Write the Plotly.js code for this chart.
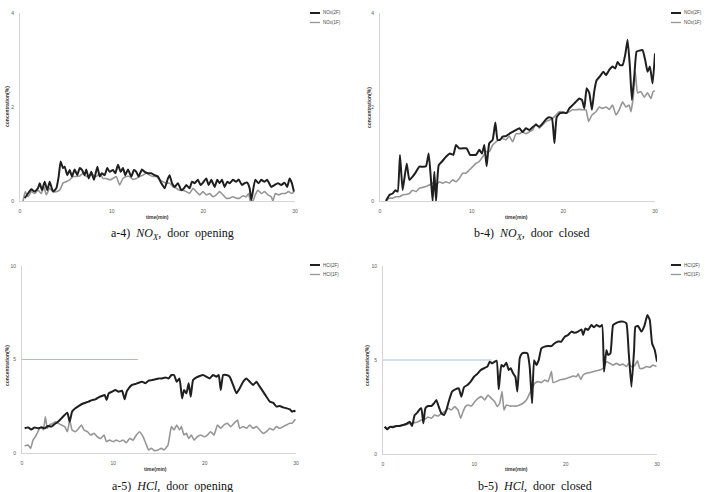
<!DOCTYPE html>
<html>
<head>
<meta charset="utf-8">
<script src="https://cdn.plot.ly/plotly-3.0.1.min.js"></script>
<style>html,body{margin:0;padding:0;background:#fff;}#chart{width:706px;height:492px;}</style>
</head>
<body>
<div id="chart"></div>
<script>
// ---------- DATA ----------
const xTicks = [0, 10, 20, 30];
const noxTicks = [0, 2, 4];
const hclTicks = [0, 5, 10];
const legendNOx = ["NOx(2F)", "NOx(1F)"];
const legendHCl = ["HCl(2F)", "HCl(1F)"];
const captions = ["a-4)  <i>NO</i><sub><i>X</i></sub>,  door  opening",
                  "b-4)  <i>NO</i><sub><i>X</i></sub>,  door  closed",
                  "a-5)  <i>HCl</i>,  door  opening",
                  "b-5)  <i>HCl</i>,  door  closed"];

// a-4) NOx, door opening
const noxOpenT2F = [0.51,0.87,1.24,1.6,1.96,2.15,2.4,2.69,2.98,3.24,3.6,3.96,4.22,4.43,4.69,4.87,5.16,5.42,5.67,5.96,6.25,6.51,6.76,7.05,7.23,7.49,7.78,8.07,8.44,8.69,8.94,9.23,9.52,9.78,10.14,10.4,10.69,10.98,11.23,11.49,11.78,12.14,12.43,12.69,12.94,13.3,13.6,13.96,14.32,14.69,15.05,15.41,15.78,16.14,16.32,16.58,16.87,17.23,17.6,17.89,18.14,18.5,18.76,19.05,19.41,19.7,19.96,20.32,20.58,20.87,21.23,21.52,21.77,22.03,22.32,22.61,22.87,23.23,23.59,23.85,24.21,24.5,24.79,25.05,25.23,25.66,26.03,26.32,26.68,26.97,27.41,27.77,28.14,28.5,28.86,29.15,29.41,29.66,29.88];
const noxOpenV2F = [0.06,0.16,0.25,0.20,0.27,0.38,0.23,0.41,0.23,0.41,0.20,0.27,0.52,0.84,0.70,0.73,0.55,0.66,0.52,0.67,0.55,0.70,0.66,0.55,0.67,0.48,0.62,0.45,0.73,0.52,0.59,0.55,0.70,0.62,0.66,0.59,0.77,0.62,0.70,0.55,0.67,0.52,0.66,0.62,0.52,0.67,0.62,0.59,0.59,0.55,0.52,0.38,0.27,0.48,0.55,0.38,0.30,0.38,0.23,0.27,0.34,0.27,0.41,0.38,0.45,0.34,0.39,0.48,0.34,0.45,0.30,0.45,0.38,0.45,0.30,0.41,0.38,0.45,0.41,0.46,0.34,0.38,0.39,0.27,0.02,0.45,0.38,0.45,0.41,0.45,0.30,0.34,0.38,0.34,0.39,0.30,0.48,0.38,0.20];
const noxOpenT1F = [0.33,0.58,0.87,1.24,1.6,1.96,2.33,2.62,2.87,3.24,3.6,3.96,4.33,4.69,5.05,5.42,5.78,6.14,6.51,6.87,7.23,7.6,7.96,8.33,8.69,9.05,9.42,9.78,10.14,10.5,10.87,11.23,11.6,11.96,12.32,12.69,13.05,13.41,13.78,14.14,14.5,14.87,15.23,15.6,15.96,16.32,16.69,17.05,17.41,17.78,18.14,18.5,18.87,19.23,19.6,19.96,20.32,20.69,21.05,21.41,21.77,22.14,22.5,22.87,23.23,23.59,23.96,24.32,24.68,24.94,25.12,25.41,25.66,25.95,26.32,26.68,27.05,27.41,27.59,27.85,28.22,28.58,28.94,29.3,29.66,29.88];
const noxOpenV1F = [0,0.20,0.09,0.20,0.16,0.23,0.16,0.30,0.13,0.27,0.20,0.20,0.23,0.38,0.41,0.45,0.52,0.52,0.53,0.59,0.52,0.55,0.55,0.52,0.59,0.48,0.48,0.45,0.48,0.52,0.34,0.48,0.52,0.52,0.46,0.48,0.52,0.55,0.59,0.55,0.52,0.52,0.45,0.41,0.38,0.38,0.30,0.27,0.23,0.23,0.20,0.16,0.27,0.20,0.13,0.20,0.13,0.16,0.09,0.13,0.20,0.13,0.06,0.06,0.09,0.06,0.06,0.11,0.09,0.16,0,0,0.13,0.23,0.16,0.20,0.13,0.09,0,0.16,0.13,0.16,0.16,0.20,0.16,0.20];

// b-4) NOx, door closed
const noxClosedT2F = [0.65,1.02,1.38,1.67,1.93,2.18,2.47,2.91,3.2,3.56,3.93,4.29,4.65,5.02,5.31,5.56,5.74,5.93,6.11,6.4,6.76,7.2,7.63,8.0,8.29,8.65,9.02,9.45,9.82,10.18,10.47,10.83,11.12,11.38,11.63,11.92,12.29,12.58,12.83,13.09,13.38,13.74,14.11,14.47,14.83,15.2,15.56,15.92,16.29,16.65,17.01,17.38,17.74,18.11,18.47,18.76,19.03,19.27,19.63,20.0,20.36,20.65,21.01,21.37,21.74,22.03,22.29,22.54,22.83,23.12,23.37,23.63,23.99,24.36,24.65,25.01,25.37,25.66,25.92,26.17,26.46,26.75,27.01,27.26,27.48,27.74,27.99,28.28,28.64,28.93,29.19,29.44,29.74,30.0];
const noxClosedV2F = [0,0.13,0.16,0.23,0.20,0.98,0.23,0.80,0.45,0.52,0.62,0.73,0.73,0.74,1.01,0.45,0,0.62,0,0.76,0.84,0.94,1.01,0.98,1.19,1.12,1.12,1.12,0.98,0.98,0.98,1.09,1.01,1.19,0.74,1.23,1.30,1.67,1.30,1.30,1.37,1.38,1.43,1.47,1.51,1.55,1.47,1.55,1.51,1.57,1.62,1.58,1.65,1.74,1.78,1.76,1.23,1.78,1.87,1.88,1.87,1.97,2.04,2.11,2.18,2.15,1.97,2.40,2.30,1.94,2.33,2.57,2.65,2.75,2.68,2.79,2.86,2.82,2.96,2.89,2.89,3.11,3.43,2.86,2.15,2.65,3.18,3.20,3.21,3.00,2.75,2.86,2.50,3.14];
const noxClosedT1F = [0.65,1.02,1.38,1.74,2.11,2.47,2.84,3.2,3.56,3.93,4.29,4.65,5.02,5.38,5.74,6.11,6.47,6.83,7.2,7.56,7.93,8.29,8.65,9.02,9.38,9.74,10.11,10.47,10.83,11.2,11.56,11.92,12.29,12.65,13.02,13.38,13.74,14.11,14.47,14.83,15.2,15.56,15.92,16.29,16.65,17.01,17.38,17.74,18.11,18.47,18.84,19.2,19.56,19.92,20.29,20.65,21.01,21.37,21.74,22.1,22.47,22.76,23.12,23.56,23.92,24.28,24.65,25.01,25.37,25.74,26.1,26.46,26.83,27.19,27.37,27.63,27.85,28.1,28.46,28.83,29.19,29.55,29.81,30.0];
const noxClosedV1F = [0,0.06,0.06,0.09,0.09,0.13,0.14,0.16,0.23,0.20,0.27,0.29,0.31,0.34,0.38,0.34,0.41,0.38,0.41,0.38,0.45,0.41,0.48,0.59,0.59,0.66,0.73,0.80,0.84,0.94,1.05,1.05,1.19,1.26,1.30,1.33,1.30,1.38,1.26,1.43,1.43,1.47,1.43,1.47,1.51,1.65,1.55,1.62,1.69,1.72,1.76,1.83,1.90,1.90,1.87,1.90,1.94,1.94,1.95,1.94,1.94,1.69,1.83,1.90,2.00,1.97,2.00,1.95,2.04,1.83,1.94,2.11,2.00,2.04,1.90,2.21,2.75,2.30,2.33,2.21,2.30,2.18,2.33,2.34];

// a-5) HCl, door opening
const hclOpenT2F = [0.29,0.66,1.02,1.39,1.75,2.12,2.48,2.85,3.21,3.58,3.94,4.31,4.67,4.97,5.22,5.48,5.84,6.21,6.57,6.94,7.3,7.67,8.03,8.4,8.76,9.05,9.27,9.49,9.86,10.22,10.59,10.95,11.24,11.46,11.68,12.05,12.41,12.78,13.14,13.51,13.87,14.24,14.6,14.97,15.33,15.7,16.06,16.36,16.65,16.94,17.24,17.53,17.74,18.0,18.25,18.47,18.73,19.1,19.46,19.83,20.19,20.55,20.92,21.29,21.54,21.76,22.02,22.38,22.74,23.11,23.48,23.84,24.21,24.57,24.94,25.3,25.67,26.03,26.4,26.76,27.13,27.49,27.86,28.22,28.59,28.95,29.32,29.57,29.79,29.93];
const hclOpenV2F = [1.32,1.37,1.26,1.37,1.32,1.37,1.32,1.44,1.41,1.55,1.67,1.85,2.03,2.16,1.67,2.21,2.39,2.51,2.62,2.69,2.75,2.83,2.87,2.98,3.05,3.10,2.83,3.19,3.28,3.37,3.28,3.33,2.87,3.28,3.46,3.64,3.69,3.76,3.81,3.73,3.87,3.90,3.94,3.99,3.99,4.04,3.99,4.17,4.17,3.81,3.99,2.92,3.37,3.19,3.73,3.01,3.90,4.04,4.12,4.17,4.08,3.99,4.17,4.08,4.17,3.37,4.17,4.17,4.08,3.64,3.19,3.46,3.81,3.99,3.81,3.64,3.81,3.55,3.28,3.01,2.75,2.69,2.48,2.51,2.44,2.39,2.33,2.21,2.26,2.21];
const hclOpenT1F = [0.29,0.66,0.95,1.2,1.57,1.83,2.12,2.34,2.56,2.77,3.03,3.39,3.65,3.94,4.31,4.67,4.97,5.22,5.48,5.84,6.21,6.5,6.79,7.16,7.52,7.89,8.25,8.62,8.98,9.24,9.6,9.97,10.33,10.7,11.06,11.43,11.79,12.16,12.52,12.89,13.25,13.62,13.87,14.16,14.53,14.89,15.26,15.55,15.99,16.36,16.65,16.94,17.24,17.45,17.74,18.0,18.25,18.55,18.84,19.2,19.57,19.93,20.3,20.66,21.03,21.4,21.76,22.12,22.49,22.85,23.22,23.59,23.84,24.21,24.57,24.94,25.3,25.67,26.03,26.4,26.76,27.13,27.49,27.86,28.22,28.59,28.95,29.32,29.57,29.93];
const hclOpenV1F = [0.37,0.43,0.25,0.68,0.96,1.23,1.41,1.23,1.94,1.32,1.50,1.59,1.67,1.59,1.50,1.41,1.14,1.76,1.23,1.14,1.32,1.50,1.23,1.14,0.96,1.05,0.87,0.78,0.96,0.61,0.69,0.61,0.69,0.61,0.69,0.55,0.78,0.69,0.96,1.14,0.87,0.43,0.16,0.25,0.12,0.16,0.25,0.16,0.43,1.41,1.23,1.50,1.23,1.41,0.96,1.05,0.78,0.96,0.69,0.87,0.96,0.87,0.96,1.14,0.96,1.50,1.32,1.50,1.59,1.41,1.59,1.76,1.32,1.41,1.32,1.50,1.32,1.41,1.23,1.05,1.14,1.32,1.23,1.41,1.32,1.41,1.50,1.59,1.59,1.80];

// b-5) HCl, door closed
const hclClosedT2F = [0.18,0.47,0.77,1.09,1.46,1.83,2.19,2.56,2.92,3.18,3.47,3.76,4.02,4.2,4.42,4.64,4.93,5.29,5.59,5.84,6.1,6.39,6.68,6.94,7.19,7.56,7.92,8.29,8.58,8.87,9.24,9.6,9.97,10.33,10.7,11.06,11.43,11.68,11.94,12.23,12.45,12.67,12.96,13.22,13.51,13.76,13.98,14.24,14.49,14.71,14.97,15.22,15.52,15.81,16.06,16.32,16.54,16.79,17.05,17.34,17.71,18.07,18.44,18.8,19.17,19.53,19.9,20.26,20.63,20.99,21.36,21.73,21.91,22.16,22.45,22.82,23.11,23.37,23.73,23.99,24.2,24.46,24.64,24.9,25.19,25.56,25.92,26.29,26.65,26.91,27.2,27.49,27.64,27.93,28.29,28.59,28.95,29.21,29.46,29.75,30.0];
const hclClosedV2F = [1.45,1.31,1.45,1.42,1.49,1.49,1.54,1.60,1.72,1.49,2.07,2.20,2.38,2.43,1.63,2.43,2.55,2.55,2.70,2.87,2.52,2.16,2.07,2.34,2.78,3.32,3.44,3.49,3.05,3.55,3.67,3.85,4.11,4.26,4.47,4.56,4.65,4.91,4.82,4.91,4.96,3.44,4.73,4.65,4.86,4.47,4.56,4.29,4.11,3.32,5.09,5.35,5.39,5.35,4.65,2.70,4.99,4.73,4.99,5.62,5.71,5.74,5.74,5.89,5.98,5.98,6.24,6.33,6.51,6.45,6.51,6.63,6.33,6.68,6.60,6.86,6.74,6.86,6.77,6.86,4.38,5.53,5.27,5.35,6.86,6.98,7.04,7.04,6.95,5.35,3.58,5.53,6.77,6.81,6.51,6.77,7.39,7.13,5.89,5.53,4.91];
const hclClosedT1F = [0.18,0.55,0.91,1.28,1.64,2.01,2.37,2.74,3.1,3.47,3.83,4.2,4.56,4.93,5.29,5.66,6.02,6.39,6.75,7.12,7.48,7.85,8.21,8.51,8.76,9.02,9.31,9.67,10.04,10.4,10.77,11.13,11.5,11.86,12.23,12.52,12.78,13.03,13.25,13.51,13.87,14.24,14.6,14.97,15.33,15.7,16.06,16.32,16.61,16.98,17.34,17.71,18.07,18.44,18.62,18.98,19.35,19.71,20.08,20.45,20.81,21.18,21.36,21.65,21.91,22.27,22.64,23.0,23.37,23.73,24.1,24.46,24.83,25.19,25.56,25.92,26.29,26.65,26.91,27.2,27.56,27.86,28.11,28.48,28.84,29.21,29.57,29.94];
const hclClosedV1F = [1.42,1.37,1.45,1.49,1.49,1.54,1.54,1.60,1.63,1.67,1.72,1.81,1.84,1.97,1.90,2.07,2.02,2.16,2.25,2.43,2.34,2.52,2.34,1.90,2.25,2.52,2.61,2.55,2.78,2.96,3.05,2.87,3.14,2.96,2.78,2.52,2.70,3.32,2.34,2.61,2.55,2.55,2.55,2.61,2.70,2.87,3.23,3.49,3.76,3.85,3.80,3.94,3.85,4.38,3.80,3.85,3.94,3.97,4.02,4.08,4.15,4.11,4.26,3.97,4.20,4.29,4.33,4.38,4.43,4.47,4.56,4.91,4.82,4.73,4.82,4.73,4.78,4.65,4.82,4.65,4.70,4.96,4.56,4.56,4.65,4.61,4.73,4.65];

// reference level lines in HCl panels
const hclLimitOpenT = [0, 12.7];
const hclLimitClosedT = [0, 11.9];
const hclLimitV = [5, 5];

// ---------- STYLE / LAYOUT ----------
const W = 706, H = 492;
const px = v => v / W;
const py = v => 1 - v / H;
const C2F = '#1f1f1f', C1F = '#969696', CLIM = '#a3bddb';

function line(xs, ys, color, width, xa, ya, name) {
  return {type: 'scatter', mode: 'lines', x: xs, y: ys, name: name, xaxis: xa, yaxis: ya,
          line: {color: color, width: width, shape: 'spline', smoothing: 0.4}, hoverinfo: 'skip', showlegend: false};
}

const data = [
  line(noxOpenT1F, noxOpenV1F, C1F, 1.6, 'x', 'y', legendNOx[1]),
  line(noxOpenT2F, noxOpenV2F, C2F, 2, 'x', 'y', legendNOx[0]),
  line(noxClosedT1F, noxClosedV1F, C1F, 1.6, 'x2', 'y2', legendNOx[1]),
  line(noxClosedT2F, noxClosedV2F, C2F, 2, 'x2', 'y2', legendNOx[0]),
  {type: 'scatter', mode: 'lines', x: hclLimitOpenT, y: hclLimitV, xaxis: 'x3', yaxis: 'y3', line: {color: CLIM, width: 1}, showlegend: false, hoverinfo: 'skip'},
  line(hclOpenT1F, hclOpenV1F, C1F, 1.6, 'x3', 'y3', legendHCl[1]),
  line(hclOpenT2F, hclOpenV2F, C2F, 2, 'x3', 'y3', legendHCl[0]),
  {type: 'scatter', mode: 'lines', x: hclLimitClosedT, y: hclLimitV, xaxis: 'x4', yaxis: 'y4', line: {color: CLIM, width: 1}, showlegend: false, hoverinfo: 'skip'},
  line(hclClosedT1F, hclClosedV1F, C1F, 1.6, 'x4', 'y4', legendHCl[1]),
  line(hclClosedT2F, hclClosedV2F, C2F, 2, 'x4', 'y4', legendHCl[0])
];

const tickFont = {family: 'Liberation Sans, Arial, sans-serif', size: 5, color: '#595959'};
function xax(d0, d1, anchor) {
  return {domain: [px(d0), px(d1)], anchor: anchor, range: [0, 30], tickmode: 'array', tickvals: xTicks,
          showline: true, linecolor: '#d4d4d4', linewidth: 1, showgrid: false, zeroline: false, ticks: '',
          tickfont: tickFont, ticklabelstandoff: 5, fixedrange: true};
}
function yax(top, bottom, anchor, maxV, ticks) {
  return {domain: [py(bottom), py(top)], anchor: anchor, range: [0, maxV], tickmode: 'array', tickvals: ticks,
          showline: true, linecolor: '#d4d4d4', linewidth: 1, showgrid: false, zeroline: false, ticks: '',
          tickfont: tickFont, ticklabelstandoff: 4, fixedrange: true};
}

const annotations = [];
const shapes = [];
const titleFont = {family: 'Liberation Sans, Arial, sans-serif', size: 5, color: '#333', weight: 'bold'};
const capFont = {family: 'Liberation Serif, Times New Roman, serif', size: 12, color: '#111'};

function addText(x, y, text, font, extra) {
  annotations.push(Object.assign({xref: 'paper', yref: 'paper', x: px(x), y: py(y), text: text, showarrow: false,
    font: font, xanchor: 'center', yanchor: 'middle'}, extra || {}));
}
function addLegend(x0, yTop, names) {
  const cols = [C2F, C1F], widths = [2, 1.3];
  for (let i = 0; i < 2; i++) {
    const yy = yTop + i * 9.5;
    shapes.push({type: 'line', xref: 'paper', yref: 'paper', x0: px(x0), x1: px(x0 + 10), y0: py(yy), y1: py(yy),
                 line: {color: cols[i], width: widths[i]}});
    addText(x0 + 10.5, yy, names[i], {family: 'Liberation Sans, Arial, sans-serif', size: 4.5, color: '#444'}, {xanchor: 'left'});
  }
}

// panel decorations
const panels = [
  {cap: [172, 234], xt: [157, 217], yt: [7, 107], leg: [310, 13], names: legendNOx},
  {cap: [531, 234], xt: [516, 217], yt: [369, 107], leg: [671, 13], names: legendNOx},
  {cap: [172, 486], xt: [155, 469], yt: [7, 366], leg: [310, 265], names: legendHCl},
  {cap: [535, 486], xt: [516, 469], yt: [367, 366], leg: [671, 265], names: legendHCl}
];
panels.forEach((p, i) => {
  addText(p.cap[0], p.cap[1], captions[i], capFont);
  addText(p.xt[0], p.xt[1], 'time(min)', titleFont);
  addText(p.yt[0], p.yt[1], 'concentration(%)', titleFont, {textangle: -90});
  addLegend(p.leg[0], p.leg[1], p.names);
});

const layout = {
  width: W, height: H, margin: {l: 0, r: 0, t: 0, b: 0},
  paper_bgcolor: '#ffffff', plot_bgcolor: '#ffffff', showlegend: false,
  xaxis: xax(20, 295, 'y'),   yaxis: yax(13, 201, 'x', 4, noxTicks),
  xaxis2: xax(380, 655, 'y2'), yaxis2: yax(13, 201, 'x2', 4, noxTicks),
  xaxis3: xax(22, 296, 'y3'), yaxis3: yax(266, 453, 'x3', 10, hclTicks),
  xaxis4: xax(383, 657, 'y4'), yaxis4: yax(266, 454, 'x4', 10, hclTicks),
  annotations: annotations, shapes: shapes
};

Plotly.newPlot('chart', data, layout, {staticPlot: true, displayModeBar: false});
</script>
</body>
</html>
